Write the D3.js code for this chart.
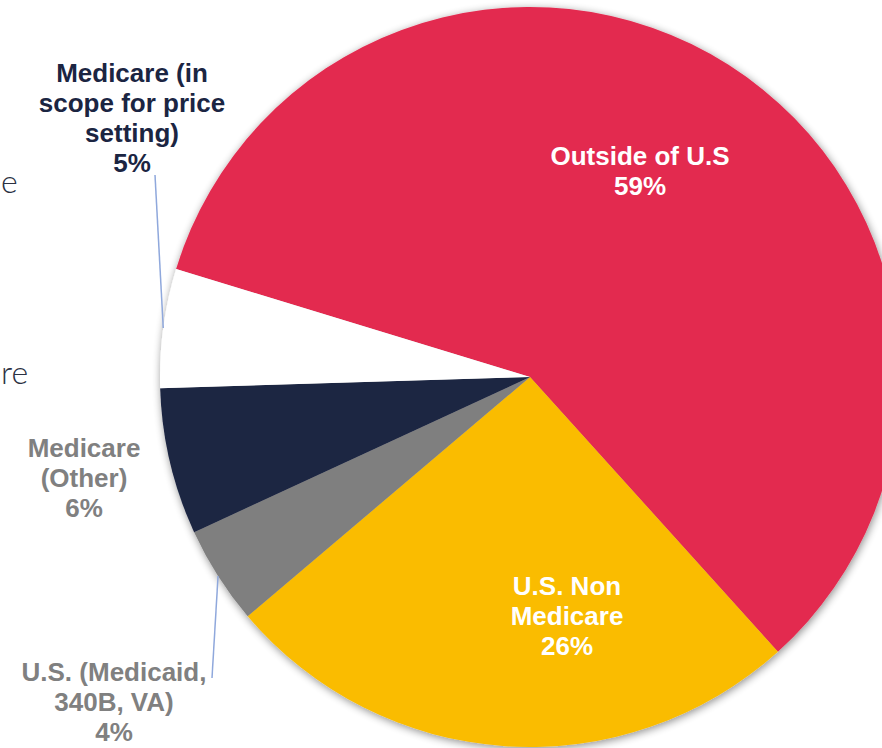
<!DOCTYPE html>
<html>
<head>
<meta charset="utf-8">
<script src="https://cdn.jsdelivr.net/npm/d3@7"></script>
<style>
  html, body { margin: 0; padding: 0; background: #ffffff; overflow: hidden; }
  svg { display: block; }
</style>
</head>
<body>
<svg id="chart" width="882" height="748"></svg>
<script>
// ---- data ----
const categories = ["Outside of U.S", "U.S. Non Medicare", "U.S. (Medicaid, 340B, VA)", "Medicare (Other)", "Medicare (in scope for price setting)"];
const values = [58.6, 25.5, 4.3, 6.4, 5.2];
const labelLines = [
  ["Outside of U.S"],
  ["U.S. Non", "Medicare"],
  ["U.S. (Medicaid,", "340B, VA)"],
  ["Medicare", "(Other)"],
  ["Medicare (in", "scope for price", "setting)"]
];
const colors = ["#E32B50", "#FABC04", "#7F7F7F", "#1B2542", "#FFFFFF"];
const labelColors = ["#FFFFFF", "#FFFFFF", "#808080", "#808080", "#1B2542"];
const sideTexts = ["e", "re"];

// ---- layout ----
const svg = d3.select("#chart");
const cx = 530, cy = 377, R = 370;
const startDeg = -73.03;

const defs = svg.append("defs");
const f = defs.append("filter").attr("id", "shadow")
  .attr("x", "-10%").attr("y", "-10%").attr("width", "120%").attr("height", "120%");
f.append("feGaussianBlur").attr("in", "SourceAlpha").attr("stdDeviation", 4).attr("result", "b");
f.append("feOffset").attr("in", "b").attr("dx", 1).attr("dy", 2).attr("result", "o");
f.append("feComponentTransfer").attr("in", "o").attr("result", "s")
  .append("feFuncA").attr("type", "linear").attr("slope", 0.45);
const m = f.append("feMerge");
m.append("feMergeNode").attr("in", "s");
m.append("feMergeNode").attr("in", "SourceGraphic");

const data = categories.map((c, i) => ({ name: c, value: values[i], i }));
const start = startDeg * Math.PI / 180;
const pie = d3.pie().sort(null).value(d => d.value).startAngle(start).endAngle(start + 2 * Math.PI);
const arcs = pie(data);
const arc = d3.arc().innerRadius(0).outerRadius(R);

const g = svg.append("g").attr("transform", `translate(${cx},${cy})`);
const pg = g.append("g").attr("filter", "url(#shadow)");
pg.selectAll("path").data(arcs).enter().append("path")
  .attr("d", arc)
  .attr("fill", d => colors[d.data.i]);

// side texts at the left edge
svg.append("text").attr("x", 1).attr("y", 193).attr("text-anchor", "start")
  .attr("font-family", "Lato, 'Open Sans', sans-serif").attr("font-weight", 300)
  .attr("font-size", 32).attr("fill", "#2B3142").text(sideTexts[0]);
svg.append("text").attr("x", 1).attr("y", 384).attr("text-anchor", "start")
  .attr("font-family", "Lato, 'Open Sans', sans-serif").attr("font-weight", 300)
  .attr("font-size", 32).attr("fill", "#2B3142").text(sideTexts[1]);

// leader lines (from label to slice mid-angle at the rim)
const leader = [
  { i: 4, x1: 155, y1: 175 },
  { i: 2, x1: 212, y1: 678 }
];
leader.forEach(l => {
  const a = arcs[l.i];
  const ang = (a.startAngle + a.endAngle) / 2;
  const x2 = cx + Math.sin(ang) * R;
  const y2 = cy - Math.cos(ang) * R;
  svg.append("line").attr("x1", l.x1).attr("y1", l.y1).attr("x2", x2).attr("y2", y2)
    .attr("stroke", "#8FA8DC").attr("stroke-width", 1.5);
});

// labels
const labelPos = [
  { x: 640, y: 165 },
  { x: 567, y: 595 },
  { x: 114, y: 681 },
  { x: 84, y: 457 },
  { x: 132, y: 82 }
];
const lh = 30;
arcs.forEach(a => {
  const i = a.data.i;
  const lines = labelLines[i].concat([Math.round(values[i]) + "%"]);
  const t = svg.append("text")
    .attr("text-anchor", "middle")
    .attr("font-family", "'Liberation Sans', Arial, sans-serif")
    .attr("font-weight", "bold")
    .attr("font-size", 26)
    .attr("fill", labelColors[i]);
  lines.forEach((ln, k) => {
    t.append("tspan").attr("x", labelPos[i].x).attr("y", labelPos[i].y + k * lh).text(ln);
  });
});
</script>
</body>
</html>
